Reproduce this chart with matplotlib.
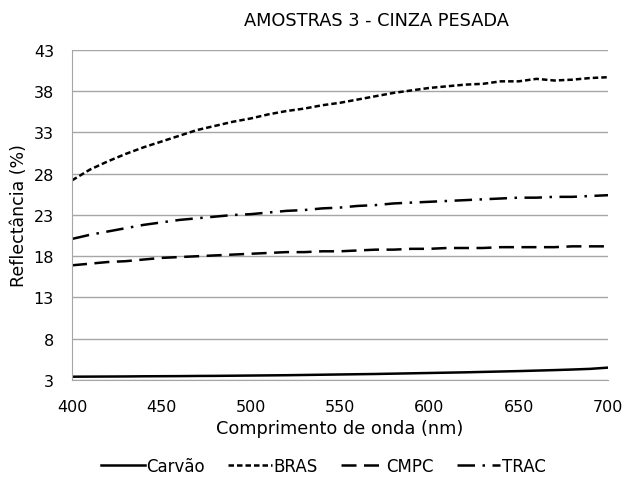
import matplotlib
matplotlib.use("Agg")
import matplotlib.pyplot as plt

wavelength = [400, 410, 420, 430, 440, 450, 460, 470, 480, 490, 500, 510, 520, 530, 540, 550,
              560, 570, 580, 590, 600, 610, 620, 630, 640, 650, 660, 670, 680, 690, 700]
carvao = [3.40, 3.41, 3.42, 3.43, 3.45, 3.46, 3.47, 3.49, 3.50, 3.52, 3.54, 3.56, 3.58, 3.61, 3.64, 3.67,
          3.70, 3.73, 3.77, 3.81, 3.85, 3.89, 3.93, 3.98, 4.03, 4.08, 4.14, 4.20, 4.27, 4.35, 4.50]
bras = [27.2, 28.5, 29.5, 30.4, 31.2, 31.9, 32.6, 33.3, 33.8, 34.3, 34.7, 35.2, 35.6, 35.9, 36.3, 36.6,
        37.0, 37.4, 37.8, 38.1, 38.4, 38.6, 38.8, 38.9, 39.2, 39.2, 39.5, 39.3, 39.4, 39.6, 39.7]
cmpc = [16.9, 17.1, 17.3, 17.4, 17.6, 17.8, 17.9, 18.0, 18.1, 18.2, 18.3, 18.4, 18.5, 18.5, 18.6, 18.6,
        18.7, 18.8, 18.8, 18.9, 18.9, 19.0, 19.0, 19.0, 19.1, 19.1, 19.1, 19.1, 19.2, 19.2, 19.2]
trac = [20.1, 20.6, 21.0, 21.4, 21.8, 22.1, 22.4, 22.6, 22.8, 23.0, 23.1, 23.3, 23.5, 23.6, 23.8, 23.9,
        24.1, 24.2, 24.4, 24.5, 24.6, 24.7, 24.8, 24.9, 25.0, 25.1, 25.1, 25.2, 25.2, 25.3, 25.4]
yticks = [3, 8, 13, 18, 23, 28, 33, 38, 43]
xticks = [400, 450, 500, 550, 600, 650, 700]

plt.rcParams['font.family'] = ['DejaVu Sans']

fig = plt.figure(figsize=(6.22, 4.81), dpi=100)
ax = fig.add_axes([0.1158, 0.2079, 0.8617, 0.6861])

lw = 1.8
ax.plot(wavelength, carvao, color='black', lw=lw, linestyle='-', label='Carvão')
ax.plot(wavelength, bras, color='black', lw=lw, linestyle=(0, (2.2, 1.2)), label='BRAS')
ax.plot(wavelength, cmpc, color='black', lw=lw, linestyle=(0, (6, 3)), label='CMPC')
ax.plot(wavelength, trac, color='black', lw=lw, linestyle=(0, (7, 3, 1, 3)), label='TRAC')

ax.set_xlim(400, 700)
ax.set_ylim(3, 43)
ax.set_xticks(xticks)
ax.set_yticks(yticks)
ax.grid(axis='y', color='#a6a6a6', lw=1.0)
ax.set_axisbelow(True)
for s in ['top', 'right']:
    ax.spines[s].set_visible(False)
ax.spines['left'].set_color('#a6a6a6')
ax.spines['bottom'].set_color('#a6a6a6')
ax.tick_params(axis='both', length=0, labelsize=11.5, colors='black')
ax.tick_params(axis='x', pad=13.5)
ax.tick_params(axis='y', pad=13)

ax.set_xlabel('Comprimento de onda (nm)', fontsize=12.8, labelpad=3.5)
ax.set_ylabel('Reflectância (%)', fontsize=12.5, labelpad=4)
fig.text(0.605, 0.957, 'AMOSTRAS 3 - CINZA PESADA', ha='center', va='center', fontsize=12.8)

leg = fig.legend(loc='center', bbox_to_anchor=(0.52, 0.03), ncol=4, frameon=False, fontsize=12,
                 handlelength=2.6, handletextpad=0.1, columnspacing=1.4)

fig.savefig('out.png', dpi=100)
